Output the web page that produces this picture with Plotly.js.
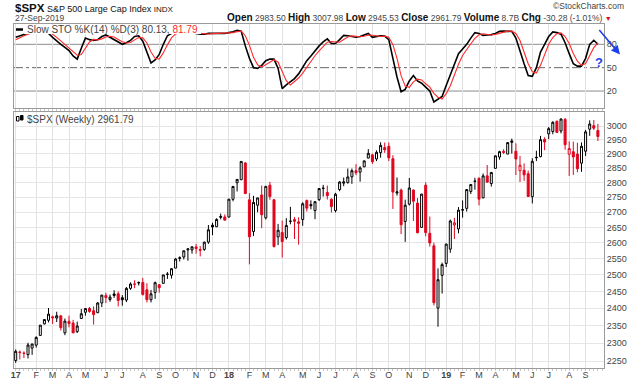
<!DOCTYPE html>
<html><head><meta charset="utf-8">
<script src="https://cdn.plot.ly/plotly-3.0.1.min.js"></script>
<style>html,body{margin:0;padding:0;background:#fff;}#chart{width:640px;height:382px;}</style>
</head><body><div id="chart"></div>
<script>
// Weekly bars (Monday of each week)
const weekStart = [
'2017-01-02','2017-01-09','2017-01-16','2017-01-23','2017-01-30','2017-02-06','2017-02-13','2017-02-20','2017-02-27',
'2017-03-06','2017-03-13','2017-03-20','2017-03-27','2017-04-03','2017-04-10','2017-04-17','2017-04-24',
'2017-05-01','2017-05-08','2017-05-15','2017-05-22','2017-05-29','2017-06-05','2017-06-12','2017-06-19','2017-06-26',
'2017-07-03','2017-07-10','2017-07-17','2017-07-24','2017-07-31','2017-08-07','2017-08-14','2017-08-21','2017-08-28',
'2017-09-04','2017-09-11','2017-09-18','2017-09-25','2017-10-02','2017-10-09','2017-10-16','2017-10-23','2017-10-30',
'2017-11-06','2017-11-13','2017-11-20','2017-11-27','2017-12-04','2017-12-11','2017-12-18','2017-12-25',
'2018-01-01','2018-01-08','2018-01-15','2018-01-22','2018-01-29','2018-02-05','2018-02-12','2018-02-19','2018-02-26',
'2018-03-05','2018-03-12','2018-03-19','2018-03-26','2018-04-02','2018-04-09','2018-04-16','2018-04-23','2018-04-30',
'2018-05-07','2018-05-14','2018-05-21','2018-05-28','2018-06-04','2018-06-11','2018-06-18','2018-06-25',
'2018-07-02','2018-07-09','2018-07-16','2018-07-23','2018-07-30','2018-08-06','2018-08-13','2018-08-20','2018-08-27',
'2018-09-03','2018-09-10','2018-09-17','2018-09-24','2018-10-01','2018-10-08','2018-10-15','2018-10-22','2018-10-29',
'2018-11-05','2018-11-12','2018-11-19','2018-11-26','2018-12-03','2018-12-10','2018-12-17','2018-12-24','2018-12-31',
'2019-01-07','2019-01-14','2019-01-21','2019-01-28','2019-02-04','2019-02-11','2019-02-18','2019-02-25',
'2019-03-04','2019-03-11','2019-03-18','2019-03-25','2019-04-01','2019-04-08','2019-04-15','2019-04-22','2019-04-29',
'2019-05-06','2019-05-13','2019-05-20','2019-05-27','2019-06-03','2019-06-10','2019-06-17','2019-06-24',
'2019-07-01','2019-07-08','2019-07-15','2019-07-22','2019-07-29','2019-08-05','2019-08-12','2019-08-19','2019-08-26',
'2019-09-02','2019-09-09','2019-09-16','2019-09-23'];

const openP = [
2251.6,2273.6,2272.1,2267.8,2286.0,2294.3,2321.7,2354.9,2365.2,2375.2,2371.6,2378.2,2329.1,2362.3,2357.2,2332.6,2370.3,
2388.5,2399.9,2393.0,2387.2,2415.7,2437.8,2425.9,2442.6,2443.3,2431.4,2424.5,2459.5,2472.0,2475.9,2477.1,2455.0,2425.5,
2447.4,2470.4,2474.5,2502.5,2499.4,2521.2,2551.4,2555.6,2578.1,2577.8,2587.5,2576.5,2579.5,2602.7,2657.2,2652.2,2685.9,2684.2,
2683.7,2742.7,2799.0,2809.2,2867.2,2741.1,2636.8,2723.0,2757.4,2681.1,2790.5,2741.4,2619.4,2633.5,2617.2,2670.1,2675.4,2668.0,
2675.5,2738.3,2725.0,2705.1,2741.7,2780.2,2765.8,2742.9,2705.0,2775.6,2797.4,2799.2,2819.0,2840.3,2835.5,2853.9,2884.7,
2896.0,2881.4,2903.8,2921.8,2926.3,2882.5,2763.8,2773.9,2669.3,2726.4,2773.9,2730.1,2649.9,2790.5,2630.9,2590.8,2400.6,
2498.9,2535.6,2580.3,2657.9,2644.9,2706.5,2712.4,2769.3,2804.4,2814.4,2747.6,2822.6,2796.0,2848.6,2888.3,2908.3,2898.8,2940.6,
2908.9,2840.2,2841.9,2830.0,2751.5,2885.8,2889.8,2951.4,2971.4,2979.8,3017.8,2981.9,3024.5,2898.1,2907.1,2898.8,2866.7,
2909.0,2988.4,3001.5,2983.5];
const highP = [
2282.1,2279.3,2277.0,2301.0,2298.3,2319.2,2351.3,2367.8,2401.0,2378.8,2390.0,2379.6,2370.4,2378.4,2366.4,2361.4,2398.2,
2399.3,2403.9,2405.8,2418.7,2440.2,2446.2,2441.0,2453.8,2450.4,2439.2,2463.5,2477.6,2484.0,2480.4,2490.9,2474.9,2454.8,
2480.0,2472.0,2500.2,2508.9,2519.4,2552.5,2557.7,2575.4,2583.0,2588.4,2597.0,2590.1,2604.2,2657.7,2665.2,2679.6,2695.0,2692.6,
2743.5,2787.9,2810.3,2872.9,2870.6,2763.4,2754.4,2747.8,2789.2,2786.6,2801.9,2741.4,2661.4,2672.1,2680.3,2717.5,2683.6,2682.9,
2732.9,2742.2,2739.2,2736.9,2779.9,2791.5,2789.0,2746.1,2764.4,2804.5,2816.8,2848.0,2848.0,2863.4,2855.6,2876.2,2916.5,
2900.2,2912.0,2940.9,2939.9,2939.9,2894.8,2817.0,2778.9,2741.7,2815.2,2776.0,2746.8,2760.9,2800.2,2685.4,2601.1,2520.3,
2538.1,2597.8,2675.5,2681.0,2716.7,2739.0,2775.7,2794.2,2816.0,2816.9,2830.7,2860.3,2836.0,2893.4,2910.5,2916.1,2939.9,2954.1,
2937.3,2892.2,2865.6,2840.5,2884.0,2910.6,2964.2,2959.1,2996.5,3017.8,3020.1,3028.0,3029.5,2944.2,2943.3,2939.1,2940.4,
2985.9,3021.0,3022.5,3008.0];
const lowP = [
2245.1,2254.3,2258.4,2257.0,2267.2,2287.5,2321.7,2352.9,2359.0,2354.5,2360.1,2335.8,2322.3,2344.7,2329.0,2328.5,2369.4,
2378.4,2387.2,2352.7,2386.5,2403.6,2415.7,2419.4,2431.0,2405.7,2407.7,2418.5,2455.0,2460.0,2468.1,2437.8,2417.4,2417.4,
2428.2,2446.6,2474.5,2488.0,2489.0,2521.2,2541.6,2547.9,2544.0,2566.2,2566.3,2557.5,2575.0,2597.0,2624.8,2651.0,2676.0,2673.6,
2682.4,2736.1,2769.0,2808.1,2760.0,2532.7,2622.5,2699.4,2647.3,2675.8,2741.4,2585.9,2593.1,2553.8,2610.8,2660.0,2612.7,2594.6,
2655.2,2701.9,2709.0,2676.8,2737.0,2752.0,2742.0,2698.7,2699.0,2770.0,2787.0,2796.0,2795.1,2825.0,2802.5,2853.0,2884.0,
2864.1,2874.0,2886.0,2903.0,2874.0,2710.5,2755.0,2628.2,2603.5,2722.0,2670.8,2631.1,2649.0,2621.5,2588.3,2408.6,2346.6,
2444.0,2524.6,2569.0,2612.7,2631.0,2681.8,2701.9,2760.5,2775.0,2722.3,2746.0,2800.7,2785.7,2848.6,2879.0,2898.9,2898.8,2900.5,
2825.4,2801.4,2805.5,2750.5,2728.8,2874.1,2887.3,2912.6,2952.2,2970.0,2975.0,2973.2,2914.1,2822.1,2825.7,2834.9,2836.5,
2891.7,2964.2,2985.6,2945.5];
const closeP = [
2277.0,2274.6,2271.3,2294.7,2297.4,2316.1,2351.2,2367.3,2383.1,2372.6,2378.3,2344.0,2362.7,2355.5,2329.0,2348.7,2384.2,
2399.3,2390.9,2381.7,2415.8,2439.1,2431.8,2433.2,2438.3,2423.4,2425.2,2459.3,2472.5,2472.1,2476.8,2441.3,2425.6,2443.1,
2476.6,2461.4,2500.2,2502.2,2519.4,2549.3,2553.2,2575.2,2581.1,2587.8,2582.3,2578.9,2602.4,2642.2,2651.5,2675.8,2683.3,2673.6,
2743.2,2786.2,2810.3,2872.9,2762.1,2619.6,2732.2,2747.3,2691.3,2786.6,2752.0,2588.3,2640.9,2604.5,2656.3,2670.1,2669.9,2663.4,
2727.7,2713.0,2721.3,2734.6,2779.0,2779.7,2754.9,2718.4,2759.8,2801.3,2801.8,2818.8,2840.4,2833.3,2850.1,2874.7,2901.5,
2871.7,2905.0,2929.7,2914.0,2885.6,2767.1,2767.8,2658.7,2723.1,2781.0,2736.3,2632.6,2760.2,2633.1,2600.0,2416.6,2485.7,
2531.9,2596.3,2670.7,2664.8,2706.5,2707.9,2775.6,2792.7,2803.7,2743.1,2822.5,2800.7,2834.4,2892.7,2907.4,2905.0,2939.9,2945.6,
2881.4,2859.5,2826.1,2752.1,2873.3,2887.0,2950.5,2941.8,2990.4,3013.8,2976.6,3025.9,2932.1,2918.7,2888.7,2847.1,2926.5,
2978.7,3007.4,2992.1,2961.8];
const priorClose = 2238.8;

// Slow stochastic %K(14) and %D(3)
const stoK = [89,91,93,95,96,97,97,96,94,89,84,80,76,72,65,61,75,88,86,85,86,90,92,89,87,83,80,82,85,90,91,84,70,56,60,67,80,91,94,95,96,97,96,95,94,93,93,94,94,94,94,94,
95,96,98,97,78,62,50,49,53,59,61,61,49,23,28,32,36,42,51,59,65,72,78,83,87,81,81,86,91.5,91,90,89,90,92,94,89,90,91,90.5,86,62,38,19,22,33,40,33,30,25,20,6,10,
13,27,40,55,68,74,80,88,95,94,91.5,92,92.5,94,96.6,97,97,96.6,88,70,55,40,39,50,70,80,90,96,95,93,82,68,55,52,52,62,80,85.2,80.13];
const stoD = [86,88.7,91,93,94.7,96,96.7,96.7,95.7,93,89,84.3,80,76,71,66,67,74.7,83,86.3,85.7,87,89.3,90.3,89.3,86.3,83.3,81.7,82.3,85.7,88.7,88.3,81.7,70,62,61,69,79.3,88.3,93.3,95,96,96.3,96,95,94,93.3,93.3,93.7,94,94,94,
94.3,95,96.3,97,91,79,63.3,53.7,50.7,53.7,57.7,60.3,57,44.3,33.3,27.7,32,36.7,43,50.7,58.3,65.3,71.7,77.7,82.7,83.7,83,82.7,86.2,89.5,90.8,90,89.7,90.3,92,91.7,91,90,90.5,89.2,79.5,62,39.7,26.3,24.7,31.7,35.3,34.3,29.3,25,17,12,
9.7,16.7,26.7,40.7,54.3,65.7,74,80.7,87.7,92.3,93.5,92.5,92,92.8,94.4,95.9,96.9,96.9,93.9,84.9,71,55,44.7,43,53,66.7,80,88.7,93.7,94.7,90,81,68.3,58.3,53,55.3,64.7,75.7,81.79];

// Axis tick labels
const tickDates = ['2017-01-02','2017-02-06','2017-03-06','2017-04-03','2017-05-01','2017-06-05','2017-07-03','2017-08-07','2017-09-04','2017-10-02','2017-11-06','2017-12-04',
'2018-01-01','2018-02-05','2018-03-05','2018-04-02','2018-05-07','2018-06-04','2018-07-02','2018-08-06','2018-09-03','2018-10-01','2018-11-05','2018-12-03',
'2019-01-07','2019-02-04','2019-03-04','2019-04-01','2019-05-06','2019-06-03','2019-07-01','2019-08-05','2019-09-02'];
const tickText = ['<b>17</b>','F','M','A','M','J','J','A','S','O','N','D','<b>18</b>','F','M','A','M','J','J','A','S','O','N','D','<b>19</b>','F','M','A','M','J','J','A','S'];
const priceTicks = [2250,2300,2350,2400,2450,2500,2550,2600,2650,2700,2750,2800,2850,2900,2950,3000];
const stoTicks = [20,50,80];

// geometry helpers (pixel -> paper)
const PL=14, PR=604, PT=24, PB=368;
const px = x => (x-PL)/(PR-PL);
const py = y => (PB-y)/(PB-PT);

const RED='#e0061e', BLK='#000000';
const groups = {blk:{x:[],o:[],h:[],l:[],c:[]}, red:{x:[],o:[],h:[],l:[],c:[]}};
closeP.forEach((c,i)=>{
  const prev = i ? closeP[i-1] : priorClose;
  const g = c >= prev ? groups.blk : groups.red;
  g.x.push(weekStart[i]); g.o.push(openP[i]); g.h.push(highP[i]); g.l.push(lowP[i]); g.c.push(c);
});
function candle(g,col){
  return {type:'candlestick', x:g.x, open:g.o, high:g.h, low:g.l, close:g.c, xaxis:'x', yaxis:'y',
    whiskerwidth:0, hoverinfo:'skip', showlegend:false,
    increasing:{line:{color:col,width:1}, fillcolor:'#ffffff'},
    decreasing:{line:{color:col,width:1}, fillcolor:col}};
}
const traces = [
  candle(groups.blk,BLK), candle(groups.red,RED),
  {type:'scatter', mode:'lines', x:weekStart, y:stoK, xaxis:'x', yaxis:'y2', line:{color:'#000',width:1.6}, hoverinfo:'skip', showlegend:false},
  {type:'scatter', mode:'lines', x:weekStart, y:stoD, xaxis:'x', yaxis:'y2', line:{color:'#ff2a2a',width:1.1}, hoverinfo:'skip', showlegend:false}
];

const FONT='Liberation Sans, Arial, sans-serif';
const GRAY='#444';
const layout = {
  width:640, height:382, margin:{l:PL,r:640-PR,t:PT,b:382-PB},
  paper_bgcolor:'#fff', plot_bgcolor:'#fff', showlegend:false,
  font:{family:FONT,size:9,color:GRAY},
  xaxis:{type:'date', range:['2016-12-30 02:00','2019-10-03 10:00'], rangeslider:{visible:false},
    tickmode:'array', tickvals:tickDates, ticktext:tickText, tickfont:{size:9,color:GRAY},
    showgrid:true, gridcolor:'#e2e2e2', gridwidth:1, showline:true, linecolor:'#9a9a9a', mirror:'all',
    ticks:'', ticklabelstandoff:-2, anchor:'y',
    minor:{tick0:'2017-01-02', dtick:7*86400000, ticks:'outside', ticklen:2, tickcolor:'#c8c8c8', showgrid:false},
    zeroline:false, fixedrange:true},
  yaxis:{domain:[0,py(112)], type:'log', range:[Math.log10(2231),Math.log10(3052)], side:'right',
    tickmode:'array', tickvals:priceTicks, ticktext:priceTicks.map(String), tickfont:{size:9,color:GRAY},
    showgrid:true, gridcolor:'#e6e6e6', showline:true, linecolor:'#9a9a9a', mirror:true, ticks:'', zeroline:false, fixedrange:true},
  yaxis2:{domain:[py(108),1], range:[-1.8,106.1], anchor:'x', side:'right',
    tickmode:'array', tickvals:stoTicks, ticktext:stoTicks.map(String), tickfont:{size:9,color:GRAY},
    showgrid:false, showline:true, linecolor:'#9a9a9a', mirror:true, ticks:'', zeroline:false, fixedrange:true},
  shapes:[
    {type:'line', xref:'paper', yref:'y2', x0:0, x1:1, y0:80, y1:80, line:{color:'#8c8c8c',width:1}, layer:'below'},
    {type:'line', xref:'paper', yref:'y2', x0:0, x1:1, y0:20, y1:20, line:{color:'#8c8c8c',width:1}, layer:'below'},
    {type:'line', xref:'paper', yref:'y2', x0:0, x1:1, y0:50, y1:50, line:{color:'#666',width:1,dash:'dashdot'}, layer:'below'},
    // white legend box in stochastic panel
    {type:'rect', xref:'paper', yref:'paper', x0:px(24), x1:px(201), y0:py(34), y1:py(25), fillcolor:'#fff', line:{width:0}, layer:'above'},
    // legend line sample
    {type:'line', xref:'paper', yref:'paper', x0:px(16), x1:px(23), y0:py(29.5), y1:py(29.5), line:{color:'#000',width:2.5}, layer:'above'},
    // candle icon
    {type:'rect', xref:'paper', yref:'paper', x0:px(16.5), x1:px(19), y0:py(121), y1:py(116.5), fillcolor:'#fff', line:{color:'#000',width:1}, layer:'above'},
    {type:'rect', xref:'paper', yref:'paper', x0:px(20.5), x1:px(23), y0:py(120), y1:py(115.5), fillcolor:'#000', line:{color:'#000',width:1}, layer:'above'}
  ],
  annotations:[
    {xref:'paper', yref:'paper', x:px(13), y:py(7.5), xanchor:'left', yanchor:'middle', showarrow:false,
     text:"<span style='font-size:11.5px'><b>$SPX</b></span> S&amp;P 500 Large Cap Index <span style='font-size:8px'>INDX</span>",
     font:{family:FONT,size:9,color:'#111'}},
    {xref:'paper', yref:'paper', x:px(13), y:py(17.5), xanchor:'left', yanchor:'middle', showarrow:false,
     text:'27-Sep-2019', font:{family:FONT,size:8.5,color:GRAY}},
    {xref:'paper', yref:'paper', x:px(614), y:py(17.5), xanchor:'right', yanchor:'middle', showarrow:false,
     text:"<span style='font-size:10px;color:#111'><b>Open</b></span> 2983.50 <span style='font-size:10px;color:#111'><b>High</b></span> 3007.98 <span style='font-size:10px;color:#111'><b>Low</b></span> 2945.53 <span style='font-size:10px;color:#111'><b>Close</b></span> 2961.79 <span style='font-size:10px;color:#111'><b>Volume</b></span> 8.7B <span style='font-size:10px;color:#111'><b>Chg</b></span> -30.28 (-1.01%) <span style='color:#e0061e;font-size:7px'>▼</span>",
     font:{family:FONT,size:8.5,color:GRAY}},
    {xref:'paper', yref:'paper', x:px(626), y:py(6), xanchor:'right', yanchor:'middle', showarrow:false,
     text:'©StockCharts.com', font:{family:FONT,size:8.5,color:GRAY}},
    {xref:'paper', yref:'paper', x:px(25), y:py(29.5), xanchor:'left', yanchor:'middle', showarrow:false,
     text:"Slow STO %K(14) %D(3) 80.13, <span style='color:#ff2a2a'>81.79</span>", font:{family:FONT,size:10,color:GRAY}},
    {xref:'paper', yref:'paper', x:px(25), y:py(119), xanchor:'left', yanchor:'middle', showarrow:false,
     text:'$SPX (Weekly) 2961.79', font:{family:FONT,size:10,color:GRAY}},
    {xref:'paper', yref:'paper', x:px(620), y:py(54.5), ax:-22, ay:-26, showarrow:true, text:'',
     arrowcolor:'#1f3fe8', arrowwidth:1.6, arrowhead:2, arrowsize:1.1},
    {xref:'paper', yref:'paper', x:px(598.5), y:py(63), xanchor:'center', yanchor:'middle', showarrow:false,
     text:'<b>?</b>', font:{family:FONT,size:13,color:'#1f3fe8'}}
  ]
};
Plotly.newPlot('chart', traces, layout, {staticPlot:true, displayModeBar:false});
</script></body></html>
